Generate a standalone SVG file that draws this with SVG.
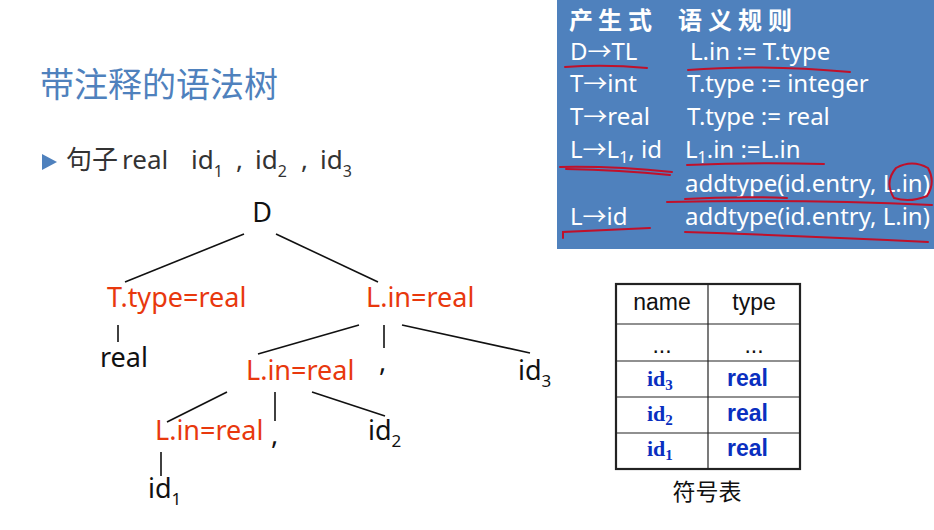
<svg xmlns="http://www.w3.org/2000/svg" width="934" height="530" viewBox="0 0 934 530">
<style>
.t{font-family:"Noto Sans","Noto Sans CJK SC",sans-serif}
.cjk{font-family:"Noto Sans CJK SC","Noto Sans",sans-serif}
.red{fill:#E8380D;font-size:27px}
.blk{fill:#111;font-size:27px}
.ln{stroke:#111;stroke-width:1.6;fill:none}
.pw{fill:#fff;font-size:24px}
.ink{stroke:#C0102A;stroke-width:2;fill:none;stroke-linecap:round}
.tb{font-family:"Liberation Sans",Arial,sans-serif;font-size:23px}
.bl{fill:#0A2FC0;font-weight:bold}
.tm{font-family:"Liberation Serif","Times New Roman",serif;font-size:22px;font-weight:bold;fill:#0A2FC0}
.grid{stroke:#222;stroke-width:1.2}
</style>
<rect width="934" height="530" fill="#fff"/>

<g id="title">
<text class="cjk" x="40" y="97" font-size="34" fill="#4F81BD">带注释的语法树</text>
</g>
<g id="sentence">
<polygon points="42,154 57,162 42,170" fill="#4F81BD"/>
<text class="cjk" x="66" y="169" font-size="26" fill="#333">句子</text>
<text class="t" y="169" font-size="26" fill="#333"><tspan x="122">real</tspan><tspan x="191">id</tspan><tspan font-size="16" dy="8">1</tspan><tspan x="236" dy="-8">,</tspan><tspan x="255">id</tspan><tspan font-size="16" dy="8">2</tspan><tspan x="301" dy="-8">,</tspan><tspan x="320">id</tspan><tspan font-size="16" dy="8">3</tspan></text>
</g>

<g id="connectors">
<line class="ln" x1="244" y1="234" x2="125" y2="282"/>
<line class="ln" x1="276" y1="234" x2="378" y2="282"/>
<line class="ln" x1="118" y1="325" x2="118" y2="342"/>
<line class="ln" x1="359" y1="325" x2="258" y2="354"/>
<line class="ln" x1="384" y1="325" x2="384" y2="348"/>
<line class="ln" x1="402" y1="325" x2="530" y2="353"/>
<line class="ln" x1="227" y1="392" x2="167" y2="422"/>
<line class="ln" x1="275" y1="392" x2="275" y2="421"/>
<line class="ln" x1="312" y1="392" x2="385" y2="416"/>
<line class="ln" x1="161" y1="452" x2="161" y2="476"/>
</g>

<g id="node-D"><text class="t blk" x="262" y="222" font-size="23" text-anchor="middle">D</text></g>
<g id="node-T"><text class="t red" x="107" y="307">T.type=real</text></g>
<g id="node-real"><text class="t blk" x="100" y="367">real</text></g>
<g id="node-L1"><text class="t red" x="366" y="307">L.in=real</text></g>
<g id="node-L2"><text class="t red" x="246" y="380">L.in=real</text></g>
<g id="node-comma1"><text class="t blk" x="379" y="371">,</text></g>
<g id="node-id3"><text class="t blk" x="518" y="380">id<tspan font-size="17" dy="7">3</tspan></text></g>
<g id="node-L3"><text class="t red" x="155" y="440">L.in=real</text></g>
<g id="node-comma2"><text class="t blk" x="271" y="444">,</text></g>
<g id="node-id2"><text class="t blk" x="368" y="440">id<tspan font-size="17" dy="7">2</tspan></text></g>
<g id="node-id1"><text class="t blk" x="148" y="498">id<tspan font-size="17" dy="7">1</tspan></text></g>

<g id="rules">
<rect x="557" y="0" width="377" height="249" fill="#4F81BD"/>
<text class="cjk" y="29" font-size="24" font-weight="bold" fill="#fff"><tspan x="569">产</tspan><tspan x="598">生</tspan><tspan x="628">式</tspan><tspan x="678">语</tspan><tspan x="708">义</tspan><tspan x="738">规</tspan><tspan x="768">则</tspan></text>
<text class="t pw" x="570" y="60">D→TL</text>
<text class="t pw" x="690" y="60">L.in := T.type</text>
<text class="t pw" x="570" y="92">T→int</text>
<text class="t pw" x="687" y="92">T.type := integer</text>
<text class="t pw" x="570" y="125">T→real</text>
<text class="t pw" x="687" y="125">T.type := real</text>
<text class="t pw" x="570" y="158">L→L<tspan font-size="16" dy="5">1</tspan><tspan dy="-5">, id</tspan></text>
<text class="t pw" x="685" y="158">L<tspan font-size="16" dy="5">1</tspan><tspan dy="-5">.in :=L.in</tspan></text>
<text class="t pw" x="685" y="192" font-size="23.5">addtype(id.entry, L.in)</text>
<text class="t pw" x="570" y="225">L→id</text>
<text class="t pw" x="685" y="225" font-size="23.5">addtype(id.entry, L.in)</text>
<path class="ink" d="M565,67 Q605,64 647,68"/>
<path class="ink" d="M688,70 Q760,64 850,72"/>
<path class="ink" d="M560,167 Q615,166 672,172"/>
<path class="ink" d="M566,169 Q620,170 670,175"/>
<path class="ink" d="M687,165 Q755,162 824,164"/>
<path class="ink" d="M667,202 Q800,199 932,205"/>
<path class="ink" d="M685,199 Q735,196 787,198"/>
<path class="ink" d="M894,198 Q884,182 896,168 Q912,159 928,168 Q936,182 927,196 Q910,203 894,198"/>
<path class="ink" d="M563,238 L563,232 Q605,230 650,228"/>
<path class="ink" d="M685,232 Q810,236 928,242"/>
</g>

<g id="symtable">
<rect x="616" y="284" width="184" height="185" fill="#fff" stroke="#222" stroke-width="2.2"/>
<line class="grid" x1="616" y1="324" x2="800" y2="324"/>
<line class="grid" x1="616" y1="361" x2="800" y2="361"/>
<line class="grid" x1="616" y1="397" x2="800" y2="397"/>
<line class="grid" x1="616" y1="433" x2="800" y2="433"/>
<line class="grid" x1="708" y1="284" x2="708" y2="469"/>
<text class="tb" x="662" y="310" text-anchor="middle" fill="#111">name</text>
<text class="tb" x="754" y="310" text-anchor="middle" fill="#111">type</text>
<text class="tb" x="662" y="353" text-anchor="middle" font-size="18" fill="#111">...</text>
<text class="tb" x="754" y="353" text-anchor="middle" font-size="18" fill="#111">...</text>
<text class="tm" x="647" y="386">id<tspan font-size="15" dy="4">3</tspan></text>
<text class="tm" x="647" y="421">id<tspan font-size="15" dy="4">2</tspan></text>
<text class="tm" x="647" y="456">id<tspan font-size="15" dy="4">1</tspan></text>
<text class="tb bl" x="727" y="386">real</text>
<text class="tb bl" x="727" y="421">real</text>
<text class="tb bl" x="727" y="456">real</text>
<text class="cjk" x="707" y="500" font-size="23" text-anchor="middle" fill="#111">符号表</text>
</g>
</svg>
